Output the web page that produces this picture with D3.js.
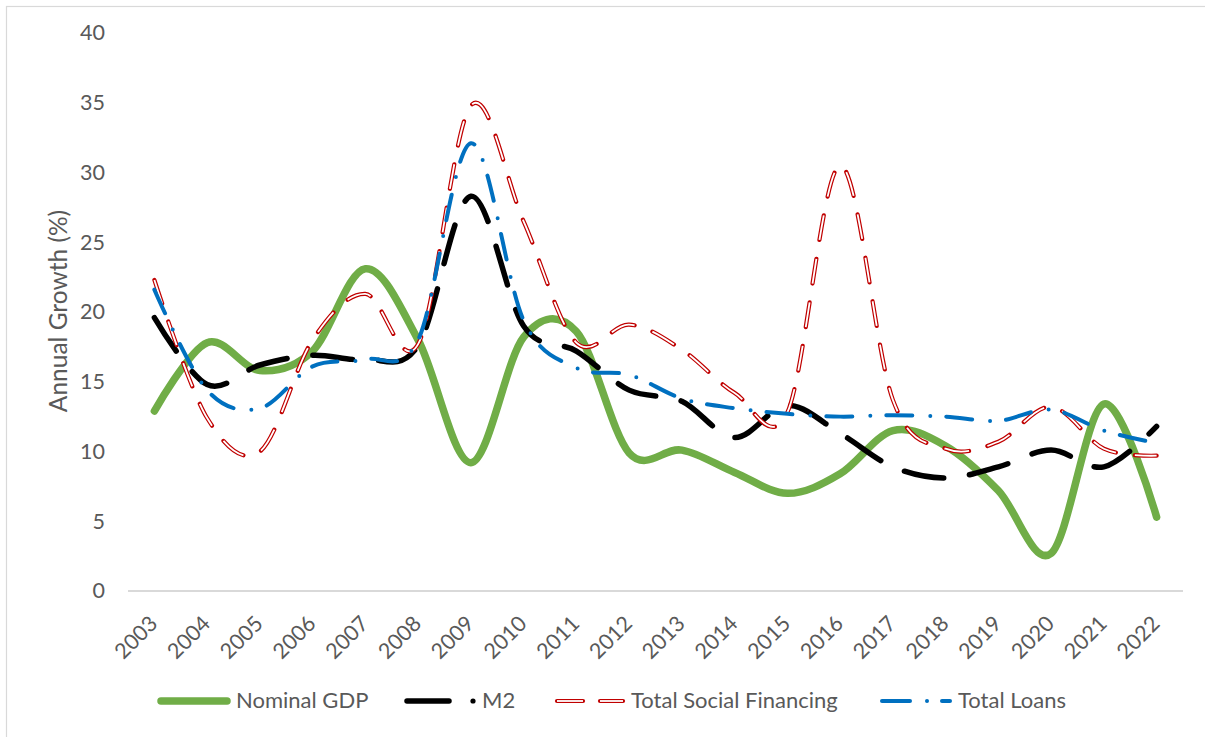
<!DOCTYPE html>
<html>
<head>
<meta charset="utf-8">
<script src="https://cdn.jsdelivr.net/npm/d3@7"></script>
<style>
  html, body { margin: 0; padding: 0; background: #ffffff; }
  svg { display: block; }
  text { font-family: Lato, "Open Sans", sans-serif; fill: #595959; }
</style>
</head>
<body>
<svg id="chart" width="1205" height="737"></svg>
<script>
// ---- data ----
const years = ["2003","2004","2005","2006","2007","2008","2009","2010","2011","2012",
               "2013","2014","2015","2016","2017","2018","2019","2020","2021","2022"];
const nominalGDP = [12.9, 17.8, 15.8, 17.2, 23.1, 18.0, 9.2, 18.2, 18.6, 9.9,
                    10.1, 8.5, 7.0, 8.4, 11.5, 10.4, 7.2, 2.7, 13.4, 5.3];
const m2 = [19.6, 14.8, 16.2, 16.9, 16.6, 17.6, 28.3, 19.0, 17.2, 14.4,
            13.6, 11.0, 13.3, 11.3, 8.9, 8.1, 8.9, 10.1, 8.9, 11.8];
const totalSocialFinancing = [22.3, 12.4, 10.0, 18.0, 21.3, 17.7, 34.8, 26.5, 17.8, 19.1,
                              17.3, 14.2, 12.8, 30.5, 13.7, 10.2, 10.7, 13.2, 10.2, 9.7];
const totalLoans = [21.6, 14.4, 13.1, 16.1, 16.6, 18.0, 32.1, 19.4, 16.0, 15.5,
                    13.8, 13.1, 12.7, 12.5, 12.6, 12.5, 12.2, 13.0, 11.5, 10.6];
const yTicks = [0, 5, 10, 15, 20, 25, 30, 35, 40];
const seriesNames = ["Nominal GDP", "M2", "Total Social Financing", "Total Loans"];
const yAxisTitle = "Annual Growth (%)";

// ---- layout ----
const svg = d3.select("#chart");
const plot = { left: 128, right: 1183, top: 33, bottom: 591 };

// chart border (only top/left visible in frame)
svg.append("rect")
  .attr("x", 6.5).attr("y", 6.5).attr("width", 1300).attr("height", 800)
  .attr("fill", "none").attr("stroke", "#d9d9d9").attr("stroke-width", 1.2);

const x = d3.scalePoint().domain(years).range([plot.left, plot.right]).padding(0.5);
const y = d3.scaleLinear().domain([0, 40]).range([plot.bottom, plot.top]);

// y axis labels
const yAxis = svg.append("g")
  .attr("transform", `translate(${plot.left},0)`)
  .call(d3.axisLeft(y).tickValues(yTicks).tickSize(0).tickPadding(23).tickFormat(d3.format("d")));
yAxis.select(".domain").remove();
yAxis.selectAll("text").style("font-size", "21.5px").style("font-family", "Lato, 'Open Sans', sans-serif").attr("fill", "#595959");

// baseline
svg.append("line")
  .attr("x1", plot.left).attr("x2", plot.right)
  .attr("y1", y(0)).attr("y2", y(0))
  .attr("stroke", "#d9d9d9").attr("stroke-width", 2);

// x axis labels
const xAxis = svg.append("g")
  .attr("transform", `translate(0,${plot.bottom})`)
  .call(d3.axisBottom(x).tickSize(0).tickPadding(0));
xAxis.select(".domain").remove();
xAxis.selectAll("text")
  .style("font-size", "21.5px").style("font-family", "Lato, 'Open Sans', sans-serif")
  .attr("fill", "#595959")
  .attr("text-anchor", "end")
  .attr("dy", null).attr("y", 0)
  .attr("transform", "translate(4,34) rotate(-45)");

// y axis title
svg.append("text")
  .attr("transform", `translate(67,311) rotate(-90)`)
  .attr("text-anchor", "middle")
  .style("font-size", "24.5px")
  .text(yAxisTitle);

// ---- lines ----
const line = d3.line()
  .x((d, i) => x(years[i]))
  .y(d => y(d))
  .curve(d3.curveCatmullRom.alpha(0));

const g = svg.append("g");
// Nominal GDP
g.append("path").datum(nominalGDP).attr("d", line)
  .attr("fill", "none").attr("stroke", "#70AD47").attr("stroke-width", 7.5)
  .attr("stroke-linecap", "round").attr("stroke-linejoin", "round");
// M2
g.append("path").datum(m2).attr("d", line)
  .attr("fill", "none").attr("stroke", "#000000").attr("stroke-width", 5.5)
  .attr("stroke-linecap", "round").attr("stroke-dasharray", "40 26");
// Total Social Financing (double line)
g.append("path").datum(totalSocialFinancing).attr("d", line)
  .attr("fill", "none").attr("stroke", "#C00000").attr("stroke-width", 4.2)
  .attr("stroke-linecap", "round").attr("stroke-dasharray", "25 19");
g.append("path").datum(totalSocialFinancing).attr("d", line)
  .attr("fill", "none").attr("stroke", "#ffffff").attr("stroke-width", 1.8)
  .attr("stroke-linecap", "butt").attr("stroke-dasharray", "25 19");
// Total Loans
g.append("path").datum(totalLoans).attr("d", line)
  .attr("fill", "none").attr("stroke", "#0070C0").attr("stroke-width", 4)
  .attr("stroke-linecap", "round").attr("stroke-dasharray", "26 18 0 16");

// ---- legend ----
const legY = 701;
const leg = svg.append("g");
// Nominal GDP
leg.append("line").attr("x1", 161).attr("x2", 227).attr("y1", legY).attr("y2", legY)
  .attr("stroke", "#70AD47").attr("stroke-width", 7.5).attr("stroke-linecap", "round");
// M2
leg.append("line").attr("x1", 407).attr("x2", 449).attr("y1", legY).attr("y2", legY)
  .attr("stroke", "#000").attr("stroke-width", 5.5).attr("stroke-linecap", "round");
leg.append("circle").attr("cx", 473).attr("cy", legY).attr("r", 2.6).attr("fill", "#000");
// TSF
[[557, 583], [600, 623]].forEach(([a, b]) => {
  leg.append("line").attr("x1", a).attr("x2", b).attr("y1", legY).attr("y2", legY)
    .attr("stroke", "#C00000").attr("stroke-width", 4.2).attr("stroke-linecap", "round");
  leg.append("line").attr("x1", a).attr("x2", b).attr("y1", legY).attr("y2", legY)
    .attr("stroke", "#fff").attr("stroke-width", 1.8);
});
// Total Loans
leg.append("line").attr("x1", 882).attr("x2", 910).attr("y1", legY).attr("y2", legY)
  .attr("stroke", "#0070C0").attr("stroke-width", 4).attr("stroke-linecap", "round");
leg.append("circle").attr("cx", 927).attr("cy", legY).attr("r", 2).attr("fill", "#0070C0");
leg.append("line").attr("x1", 942).attr("x2", 950).attr("y1", legY).attr("y2", legY)
  .attr("stroke", "#0070C0").attr("stroke-width", 4).attr("stroke-linecap", "round");

const legText = [[236, seriesNames[0]], [482, seriesNames[1]], [631, seriesNames[2]], [958, seriesNames[3]]];
legText.forEach(([lx, t]) => {
  leg.append("text").attr("x", lx).attr("y", 708).style("font-size", "22px").text(t);
});
</script>
</body>
</html>
